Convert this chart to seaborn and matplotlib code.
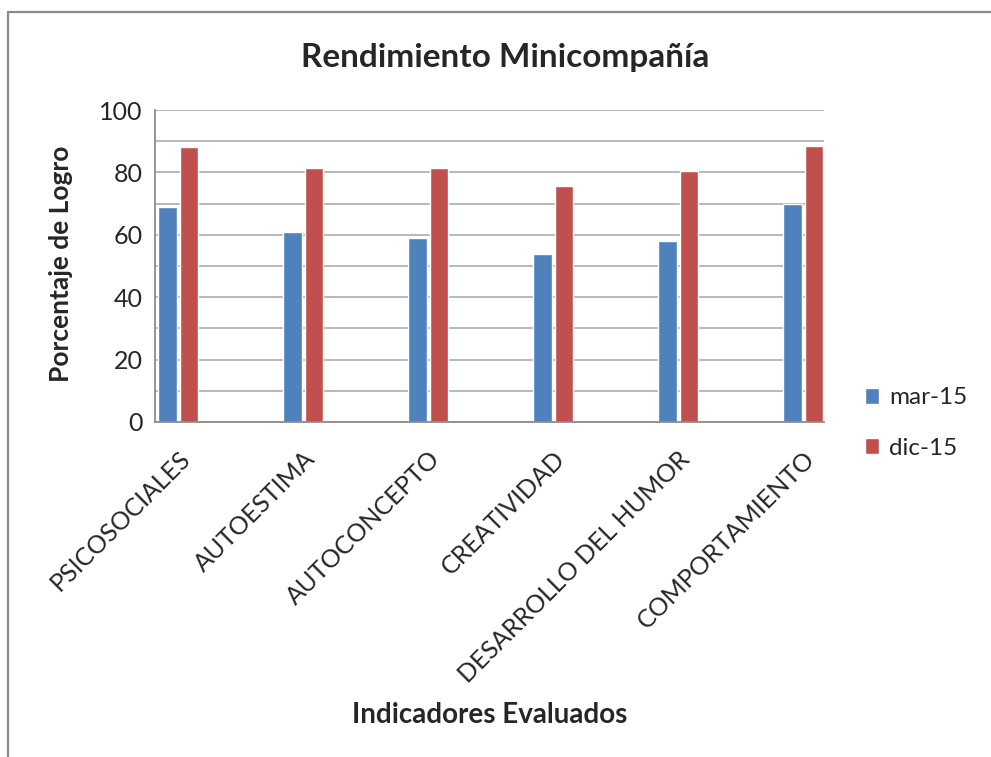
import matplotlib
matplotlib.use("Agg")
import matplotlib.pyplot as plt
from matplotlib.lines import Line2D
import pandas as pd
import seaborn as sns

# ---------------- data ----------------
indicadores = ["PSICOSOCIALES", "AUTOESTIMA", "AUTOCONCEPTO", "CREATIVIDAD",
               "DESARROLLO DEL HUMOR", "COMPORTAMIENTO"]
periodos = ["mar-15", "dic-15"]
mar_15 = [69, 61, 59, 54, 58, 70]
dic_15 = [88, 81.5, 81.5, 75.5, 80.5, 88.5]
colores = ["#4F81BD", "#C0504D"]

df = pd.DataFrame({
    "indicador": indicadores * 2,
    "periodo": [periodos[0]] * len(mar_15) + [periodos[1]] * len(dic_15),
    "valor": mar_15 + dic_15,
})

sns.set_style("white")
plt.rcParams["font.family"] = ["Lato", "DejaVu Sans"]

fig = plt.figure(figsize=(9.91, 7.57), dpi=100)
ax = fig.add_axes([155 / 991, 1 - 422 / 757, (824 - 155) / 991, (422 - 110) / 757])

sns.barplot(data=df, x="indicador", y="valor", hue="periodo",
            palette=colores, width=0.34, gap=0.15, ax=ax,
            saturation=1, errorbar=None, legend=True)

ax.set_xlim(-0.185, 5.167)
ax.set_ylim(0, 100)
ax.set_yticks(range(0, 101, 20))
ax.set_yticks(range(0, 101, 10), minor=True)
ax.yaxis.grid(True, which="both", color="#b3b3b3", linewidth=1.3)
ax.set_axisbelow(True)
ax.tick_params(axis="y", which="both", length=0, labelsize=18, pad=9)
ax.tick_params(axis="x", length=0, labelsize=18, pad=18)
for lbl in ax.get_xticklabels():
    lbl.set_rotation(45)
    lbl.set_ha("right")
    lbl.set_va("top")
    lbl.set_rotation_mode("anchor")

for side in ["top", "right"]:
    ax.spines[side].set_visible(False)
for side in ["left", "bottom"]:
    ax.spines[side].set_color("#8c8c8c")
    ax.spines[side].set_linewidth(1.3)

ax.set_xlabel("Indicadores Evaluados", fontsize=20, fontweight="bold")
ax.xaxis.set_label_coords((490 - 155) / 669, -(715 - 422) / 312)
ax.set_ylabel("Porcentaje de Logro", fontsize=19, fontweight="bold")
ax.yaxis.set_label_coords(-(155 - 61) / 669, (422 - 264) / 312)
ax.xaxis.label.set_va("center")
ax.yaxis.label.set_va("center")

fig.text(505 / 991, 1 - 57 / 757, "Rendimiento Minicompañía", fontsize=24,
         fontweight="bold", ha="center", va="center")

ax.legend(loc="center left", bbox_to_anchor=(855 / 991, 1 - 423 / 757),
          bbox_transform=fig.transFigure, frameon=False, fontsize=17.5,
          handlelength=0.6, handleheight=0.6, handletextpad=0.4,
          labelspacing=1.2, borderaxespad=0)

# chart border
bx = 7.5 / 991
by = 1 - 12 / 757
fig.add_artist(Line2D([bx, bx], [0, by], transform=fig.transFigure,
                      color="#8a8a8a", linewidth=1.6))
fig.add_artist(Line2D([bx, 1], [by, by], transform=fig.transFigure,
                      color="#8a8a8a", linewidth=1.6))

fig.savefig("out.png", dpi=100)
